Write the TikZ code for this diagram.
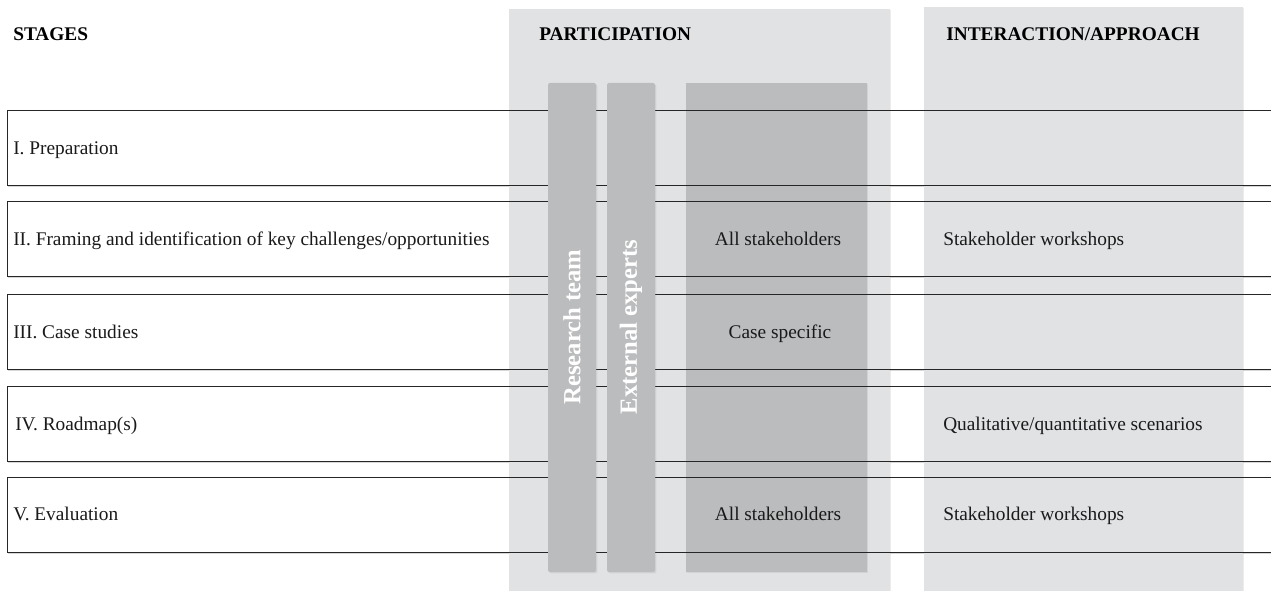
\documentclass[tikz,border=0pt]{standalone}
\usepackage{fontspec}
\setmainfont{Liberation Serif}
\usetikzlibrary{shadows}
\definecolor{panelgray}{HTML}{E1E2E4}
\definecolor{bargray}{HTML}{BBBCBE}
\definecolor{txt}{HTML}{1A1A1A}
\begin{document}
\begin{tikzpicture}[x=0.75pt,y=-0.75pt,
  rowbox/.style={draw=black!85,line width=0.7pt,fill=white,minimum width=1300*0.75pt,minimum height=75*0.75pt,anchor=north west,inner sep=0pt,
    drop shadow={shadow xshift=0.6pt,shadow yshift=-1.4pt,opacity=0.3}},
  rowtext/.style={anchor=west,text=txt,font=\fontsize{14.5}{17}\selectfont,inner sep=0pt,text height=1.6ex,text depth=0.45ex},
  head/.style={anchor=west,text=black,font=\fontsize{14.5}{17}\selectfont\bfseries,inner sep=0pt,text height=1.6ex,text depth=0.45ex},
  panel/.style={fill=panelgray,draw=none,drop shadow={shadow xshift=1pt,shadow yshift=-1pt,opacity=0.15}},
  bigbox/.style={fill=bargray,draw=none,drop shadow={shadow xshift=1pt,shadow yshift=-1pt,opacity=0.15}},
  bar/.style={fill=bargray,draw=none,rounded corners=1.5pt,drop shadow={shadow xshift=1pt,shadow yshift=-1pt,opacity=0.15}},
  bartext/.style={text=white,font=\fontsize{18.5}{22}\selectfont\bfseries,rotate=90,inner sep=0pt},
  celltext/.style={text=txt,font=\fontsize{14.5}{17}\selectfont,inner sep=0pt,text height=1.6ex,text depth=0.45ex},
  border/.style={draw=black!85,line width=0.7pt}
]
\clip (0,0) rectangle (1271,591);
\fill[white] (0,0) rectangle (1271,591);

% rows
\node[rowbox] (r1) at (7,110) {};
\node[rowbox] (r2) at (7,201) {};
\node[rowbox] (r3) at (7,294) {};
\node[rowbox] (r4) at (7,386) {};
\node[rowbox] (r5) at (7,477) {};

% panels
\path[panel] (509,9) rectangle (890,600);
\path[panel] (924,7) rectangle (1243,600);
\path[bigbox] (686,83) rectangle (867,572);

% row borders over panels
\foreach \r in {r1,r2,r3,r4,r5}{
  \draw[border] (\r.north west) rectangle (\r.south east);
}

% narrow bars
\path[bar] (548,83) rectangle (596,572);
\path[bar] (607,83) rectangle (655,572);
\node[bartext] (rt) at (572,327) {Research team};
\node[bartext] (ee) at (631,327) {External experts};

% headers
\node[head] (hs) at (13,37) {STAGES};
\node[head] (hp) at (539,37) {PARTICIPATION};
\node[head] (hi) at (946,37) {INTERACTION/APPROACH};

% row labels
\node[rowtext] (t1) at (13,151) {I. Preparation};
\node[rowtext] (t2) at (13,242) {II. Framing and identification of key challenges/opportunities};
\node[rowtext] (t3) at (13,335) {III. Case studies};
\node[rowtext] (t4) at (15,427) {IV. Roadmap(s)};
\node[rowtext] (t5) at (13,517) {V. Evaluation};

% participation cells
\node[celltext] (p2) at (778,242) {All stakeholders};
\node[celltext] (p3) at (780,335) {Case specific};
\node[celltext] (p5) at (778,517) {All stakeholders};

% interaction cells
\node[rowtext] (i2) at (943,242) {Stakeholder workshops};
\node[rowtext] (i4) at (943,427) {Qualitative/quantitative scenarios};
\node[rowtext] (i5) at (943,517) {Stakeholder workshops};
\end{tikzpicture}
\end{document}
